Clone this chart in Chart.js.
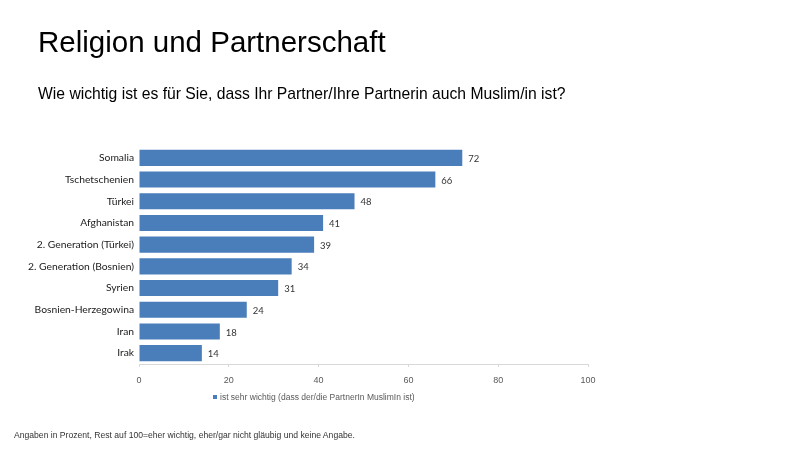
<!DOCTYPE html>
<html><head><meta charset="utf-8">
<script src="https://cdn.jsdelivr.net/npm/chart.js@4/dist/chart.umd.min.js"></script>
<style>
html,body{margin:0;padding:0;background:#fff;}
#wrap{position:relative;width:800px;height:452px;overflow:hidden;font-family:"Liberation Sans",Arial,sans-serif;}
canvas{position:absolute;left:0;top:0;}
.t{position:absolute;white-space:nowrap;color:#000;}
#title{left:38px;top:25px;font-size:29.5px;}
#sub{left:38px;top:85px;font-size:15.7px;}
#legend{left:213px;top:392px;font-size:8.5px;color:#595959;}
#legend span{display:inline-block;width:4px;height:4px;background:#4a7ebb;margin-right:3px;vertical-align:1px;}
#foot{left:14px;top:430px;font-size:8.6px;color:#333;}
</style></head>
<body><div id="wrap">
<canvas id="c" width="800" height="452"></canvas>
<div class="t" id="title">Religion und Partnerschaft</div>
<div class="t" id="sub">Wie wichtig ist es für Sie, dass Ihr Partner/Ihre Partnerin auch Muslim/in ist?</div>
<div class="t" id="legend"><span></span>ist sehr wichtig (dass der/die PartnerIn MuslimIn ist)</div>
<div class="t" id="foot">Angaben in Prozent, Rest auf 100=eher wichtig, eher/gar nicht gläubig und keine Angabe.</div>
</div>
<script>
const categories = ["Somalia","Tschetschenien","Türkei","Afghanistan","2. Generation (Türkei)","2. Generation (Bosnien)","Syrien","Bosnien-Herzegowina","Iran","Irak"];
const values = [72,66,48,41,39,34,31,24,18,14];
const seriesName = "ist sehr wichtig (dass der/die PartnerIn MuslimIn ist)";
const xTicks = [0,20,40,60,80,100];

const valueLabels = {
  id:'valueLabels',
  afterDatasetsDraw(chart){
    const ctx = chart.ctx;
    const meta = chart.getDatasetMeta(0);
    ctx.save();
    ctx.font = '9.5px Lato, "Open Sans", sans-serif';
    ctx.fillStyle = '#333';
    ctx.textBaseline = 'middle';
    meta.data.forEach((bar,i)=>{
      ctx.fillText(String(values[i]), bar.x + 6, bar.y + 1);
    });
    ctx.restore();
  }
};

new Chart(document.getElementById('c'),{
  type:'bar',
  data:{labels:categories,datasets:[{label:seriesName,data:values,backgroundColor:'#4a7ebb',borderWidth:0,barPercentage:0.74,categoryPercentage:1}]},
  options:{
    indexAxis:'y',
    responsive:false,
    animation:false,
    layout:{padding:{left:0,right:212,top:147,bottom:64}},
    plugins:{legend:{display:false},tooltip:{enabled:false}},
    scales:{
      x:{min:0,max:100,
        afterBuildTicks(s){s.ticks = xTicks.map(v=>({value:v}));},
        afterFit(s){s.height=24;},
        grid:{drawOnChartArea:false,drawTicks:true,tickLength:3,color:'#d9d9d9'},
        border:{color:'#d9d9d9'},
        ticks:{color:'#595959',font:{family:'"Liberation Sans", Arial',size:9},padding:8}
      },
      y:{
        afterFit(s){s.width=139;},
        grid:{display:false,drawTicks:false},
        border:{display:false},
        ticks:{color:'#1a1a1a',font:{family:'Lato, "Open Sans", sans-serif',size:10.3},padding:5,autoSkip:false}
      }
    }
  },
  plugins:[valueLabels]
});
</script>
</body></html>
